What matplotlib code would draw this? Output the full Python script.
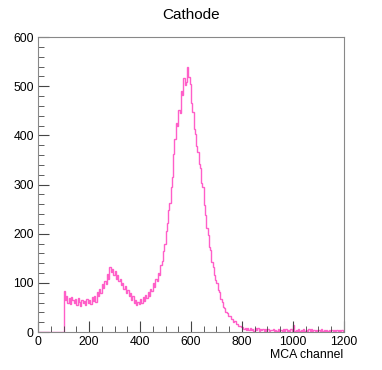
import numpy as np
import matplotlib.pyplot as plt

# MCA spectrum, 5-channel bins (channels 0..1200)
bin_width = 5
empty_bins = [0] * 20  # channels 0-100 have no counts
counts_100_200 = [84, 66, 74, 60, 70, 56, 72, 66, 58, 68, 54, 70, 62, 52, 66, 58, 64, 54, 68, 60]
counts_200_290 = [66, 56, 72, 64, 74, 62, 82, 74, 88, 80, 98, 90, 104, 98, 118, 108, 132, 122]
counts_290_400 = [128, 116, 124, 108, 116, 104, 108, 96, 100, 88, 94, 80, 86, 74, 80, 66, 74, 60, 66, 54, 62, 56]
counts_400_500 = [68, 60, 72, 64, 76, 70, 82, 74, 88, 84, 100, 92, 108, 104, 120, 116, 136, 144, 165, 180]
counts_500_590 = [205, 222, 248, 262, 295, 315, 362, 392, 425, 420, 452, 446, 490, 482, 516, 502, 508, 540]
counts_590_700 = [518, 505, 465, 448, 414, 402, 378, 366, 342, 334, 304, 296, 258, 238, 212, 198, 172, 166,
                  142, 132, 116, 106]
counts_700_800 = [100, 86, 82, 68, 62, 50, 48, 40, 38, 32, 32, 26, 26, 20, 22, 16, 16, 12, 12, 10]
counts_800_1200 = [10, 6, 9, 5, 8, 4, 9, 5, 7, 3, 8, 4, 8, 3, 6, 4, 6, 3, 7, 3,
                   6, 3, 5, 4, 7, 2, 5, 3, 6, 3, 5, 2, 6, 2, 6, 3, 5, 3, 6, 2,
                   15, 3, 5, 2, 6, 3, 5, 3, 7, 2, 5, 2, 6, 3, 6, 2, 5, 2, 5, 2,
                   5, 2, 6, 2, 5, 2, 5, 2, 5, 3, 5, 2, 5, 2, 4, 1, 5, 2, 4, 1]

counts = np.array(empty_bins + counts_100_200 + counts_200_290 + counts_290_400 + counts_400_500
                  + counts_500_590 + counts_590_700 + counts_700_800 + counts_800_1200)
edges = np.arange(len(counts) + 1) * bin_width

plt.rcParams['font.family'] = ['Liberation Sans', 'DejaVu Sans']

fig = plt.figure(figsize=(3.82, 3.70), dpi=100)
ax = fig.add_axes([0.0995, 0.1027, 0.801, 0.797])

ax.stairs(counts, edges, color='#ff5fc8', linewidth=1.0)

ax.set_xlim(0, 1200)
ax.set_ylim(0, 600)
ax.set_xticks(np.arange(0, 1201, 200))
ax.set_xticks(np.arange(0, 1201, 50), minor=True)
ax.set_yticks(np.arange(0, 601, 100))
ax.set_yticks(np.arange(0, 601, 20), minor=True)
ax.tick_params(which='both', direction='in', top=False, right=False, colors='#444444',
               labelcolor='black', labelsize=8.8)
ax.tick_params(which='major', length=8, pad=3)
ax.tick_params(which='minor', length=4)
for s in ax.spines.values():
    s.set_color('#888888')
    s.set_linewidth(0.8)

fig.text(0.5, 0.96, 'Cathode', ha='center', va='center', fontsize=11)
fig.text(0.898, 0.04, 'MCA channel', ha='right', va='center', fontsize=8.8)

fig.savefig('out.png', dpi=100)
